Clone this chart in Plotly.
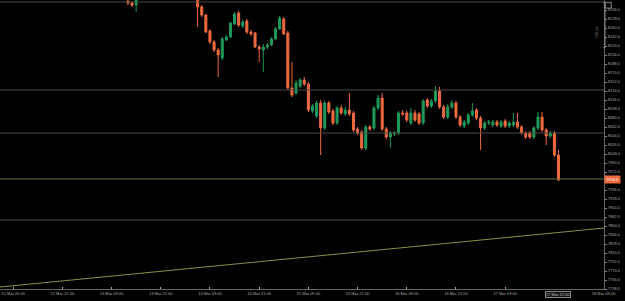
import plotly.graph_objects as go

# ---- data (price units) ----
opens = [8314, 8310, 8306, 8318, 8336, 8352, 8340, 8366, 8356, 8380, 8372, 8360, 8376, 8358, 8346, 8354, 8336,
         8324, 8302, 8286, 8254, 8232, 8216, 8200, 8236, 8242, 8268, 8290, 8264, 8274, 8252, 8250, 8222, 8216,
         8222, 8226, 8238, 8258, 8278, 8250, 8140, 8130, 8144, 8156, 8148, 8094, 8084, 8110, 8060, 8110, 8094,
         8070, 8100, 8088, 8096, 8090, 8058, 8052, 8020, 8062, 8060, 8100, 8120, 8058, 8042, 8048, 8050, 8090,
         8090, 8070, 8090, 8088, 8070, 8116, 8104, 8114, 8134, 8102, 8082, 8102, 8110, 8082, 8064, 8070, 8086,
         8096, 8080, 8060, 8070, 8066, 8072, 8064, 8074, 8064, 8066, 8072, 8062, 8050, 8050, 8042, 8060, 8082,
         8056, 8044, 8050, 8006]
highs = [8320, 8314, 8324, 8344, 8360, 8364, 8372, 8376, 8388, 8392, 8378, 8384, 8382, 8366, 8362, 8360, 8342,
         8332, 8306, 8288, 8258, 8236, 8220, 8242, 8246, 8272, 8292, 8294, 8276, 8278, 8256, 8252, 8226, 8228,
         8230, 8242, 8262, 8284, 8282, 8254, 8192, 8156, 8160, 8162, 8152, 8108, 8114, 8116, 8114, 8114, 8098,
         8104, 8106, 8102, 8130, 8094, 8062, 8056, 8066, 8066, 8104, 8126, 8130, 8062, 8054, 8054, 8094, 8096,
         8094, 8100, 8096, 8092, 8118, 8120, 8118, 8144, 8142, 8106, 8108, 8116, 8114, 8086, 8076, 8090, 8110,
         8100, 8084, 8074, 8076, 8076, 8076, 8076, 8078, 8074, 8090, 8090, 8066, 8054, 8054, 8064, 8092, 8092,
         8060, 8054, 8054, 8016]
lows = [8306, 8302, 8292, 8318, 8330, 8334, 8336, 8348, 8350, 8364, 8352, 8354, 8350, 8338, 8336, 8328, 8320,
        8262, 8282, 8250, 8228, 8212, 8162, 8196, 8234, 8240, 8266, 8262, 8260, 8248, 8244, 8220, 8192, 8172,
        8218, 8224, 8236, 8256, 8246, 8136, 8122, 8126, 8140, 8144, 8092, 8090, 8080, 8006, 8056, 8088, 8066,
        8066, 8086, 8084, 8084, 8052, 8046, 8016, 8016, 8054, 8056, 8096, 8054, 8038, 8020, 8044, 8046, 8084,
        8072, 8066, 8072, 8066, 8066, 8100, 8100, 8110, 8098, 8078, 8078, 8098, 8078, 8062, 8060, 8066, 8082,
        8076, 8016, 8056, 8066, 8062, 8062, 8060, 8060, 8060, 8062, 8058, 8046, 8038, 8038, 8038, 8056, 8052,
        8026, 8040, 8002, 7954]
closes = [8310, 8306, 8318, 8336, 8352, 8340, 8366, 8356, 8380, 8372, 8360, 8376, 8358, 8346, 8354, 8336, 8324,
          8302, 8286, 8252, 8232, 8216, 8206, 8238, 8242, 8270, 8288, 8266, 8272, 8252, 8248, 8222, 8218, 8222,
          8226, 8238, 8258, 8280, 8248, 8140, 8126, 8150, 8156, 8148, 8096, 8104, 8110, 8060, 8110, 8092, 8070,
          8100, 8090, 8096, 8088, 8056, 8050, 8020, 8062, 8058, 8100, 8120, 8058, 8042, 8050, 8050, 8090, 8088,
          8076, 8090, 8076, 8070, 8114, 8104, 8114, 8134, 8102, 8082, 8102, 8110, 8082, 8066, 8072, 8086, 8094,
          8080, 8060, 8070, 8072, 8072, 8066, 8072, 8064, 8070, 8072, 8062, 8050, 8042, 8042, 8060, 8082, 8056,
          8044, 8050, 8006, 7956]

candle_index = list(range(len(opens)))

time_tick_pos = [-28, -16, -4, 8, 20, 32, 44, 56, 68, 80, 92, 116]
time_tick_text = ["12 Mar 09:00", "12 Mar 21:00", "13 Mar 09:00", "13 Mar 21:00", "14 Mar 09:00",
                  "14 Mar 21:00", "15 Mar 09:00", "15 Mar 21:00", "16 Mar 09:00", "16 Mar 21:00",
                  "17 Mar 09:00", "18 Mar 09:00"]
last_time_text = "17 Mar 22:00"

price_ticks = [8296 - 18 * k for k in range(32)]
grey_levels = [8312, 8136, 8050, 7876]
current_price = 7958
trend_x = [-31.2, 116.1]
trend_y = [7742, 7860]
scale_text = "100 pt"

# ---- figure ----
fig = go.Figure()

fig.add_trace(go.Candlestick(
    x=candle_index, open=opens, high=highs, low=lows, close=closes,
    increasing=dict(line=dict(color="#1f9a5a", width=1), fillcolor="#1f9a5a"),
    decreasing=dict(line=dict(color="#ee6a3e", width=1), fillcolor="#ee6a3e"),
    whiskerwidth=0, showlegend=False, hoverinfo="skip",
))

fig.add_trace(go.Scatter(x=trend_x, y=trend_y, mode="lines",
                         line=dict(color="#8c8c4a", width=1), showlegend=False, hoverinfo="skip"))

for lv in grey_levels:
    fig.add_shape(type="line", xref="paper", x0=0, x1=1, y0=lv, y1=lv,
                  line=dict(color="#4a4a4a", width=1))
fig.add_shape(type="line", xref="paper", x0=0, x1=1, y0=current_price, y1=current_price,
              line=dict(color="#6e6e40", width=1))

# scale bracket + icon at the top of the price axis
fig.add_shape(type="path", xref="paper", yref="paper",
              path="M 0.9985 0.990 L 1.0017 0.990 L 1.0017 0.835 L 0.9985 0.835",
              line=dict(color="#888888", width=1))
fig.add_shape(type="rect", xref="paper", yref="paper", x0=1.002, x1=1.012, y0=0.972, y1=0.992,
              line=dict(color="#888888", width=1))
fig.add_annotation(xref="paper", yref="paper", x=0.9955, y=0.915, text=scale_text, textangle=-90,
                   showarrow=False, font=dict(size=4, color="#888888", family="Liberation Sans"))

fig.add_annotation(xref="paper", x=1.0, y=current_price, xanchor="left", yanchor="middle",
                   text=f"{current_price:.1f}", showarrow=False,
                   font=dict(size=4, color="#ffffff", family="Liberation Sans"),
                   bgcolor="#ee6a3e", borderpad=1)

fig.add_annotation(xref="x", yref="paper", x=len(opens) - 1, y=-0.006, yanchor="top",
                   text=last_time_text, showarrow=False,
                   font=dict(size=4, color="#cccccc", family="Liberation Sans"),
                   bgcolor="#111111", bordercolor="#888888", borderwidth=1, borderpad=0)

shown_ticks = [v for v in price_ticks if abs(v - current_price) > 6]

fig.update_layout(
    width=625, height=301,
    margin=dict(l=0, r=21, t=0, b=12),
    paper_bgcolor="#000000", plot_bgcolor="#000000",
    xaxis=dict(range=[-31.2, 116.1], rangeslider=dict(visible=False), showgrid=False, zeroline=False,
               tickvals=time_tick_pos, ticktext=time_tick_text, ticklabeloverflow="allow",
               tickfont=dict(size=4, color="#aaaaaa", family="Liberation Sans"),
               showline=True, linecolor="#666666", linewidth=1,
               ticks="inside", ticklen=2, tickcolor="#aaaaaa"),
    yaxis=dict(range=[7738, 8316], side="right", showgrid=False, zeroline=False,
               tickvals=shown_ticks, ticktext=[f"{v:.1f}" for v in shown_ticks],
               tickfont=dict(size=4, color="#aaaaaa", family="Liberation Sans"),
               showline=True, linecolor="#666666", linewidth=1,
               ticks="outside", ticklen=2, tickcolor="#888888"),
)

fig.write_html("out.html")
